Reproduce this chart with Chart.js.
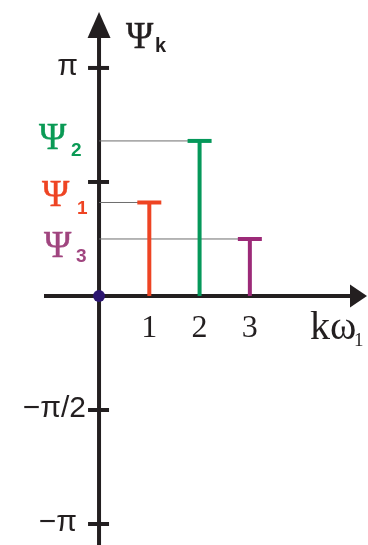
<!DOCTYPE html>
<html>
<head>
<meta charset="utf-8">
<script src="https://cdn.jsdelivr.net/npm/chart.js@4/dist/chart.umd.min.js"></script>
<style>
  html, body { margin: 0; padding: 0; background: #fff; }
  canvas { display: block; }
</style>
</head>
<body>
<canvas id="c" width="368" height="545"></canvas>
<script>
// Phase spectrum: harmonic index k and phase of each harmonic, in units of π
const harmonics = [1, 2, 3];
const phaseOverPi = [0.41, 0.68, 0.25];
const phaseSubscripts = ['1', '2', '3'];
const xTickValues = [1, 2, 3];
const xTickLabels = ['1', '2', '3'];
const yTickValues = [1, 0.5, -0.5, -1];
const yTickLabels = ['π', '', '−π/2', '−π'];

// styling
const STEM_COLORS = ['#ee4423', '#05985a', '#9c2a78'];
const LABEL_COLORS = ['#ee4423', '#0a9a55', '#a0457f'];
const INK = '#231f20';
const GUIDE = '#6e6e6e';
// right edge of each y tick label, measured left from the axis
const Y_LABEL_GAP = [21, 13, 13, 22];
// Ψ label placement: left x of Ψ, baseline offset from the value line; subscript x and baseline offset
const PSI_LABEL_POS = [
  { x: 42, dy: 4, sx: 77, sdy: 12 },
  { x: 39, dy: 8, sx: 71, sdy: 15 },
  { x: 44, dy: 18, sx: 76, sdy: 23 }
];
const PSI_FONT = '37px "Liberation Serif", "Times New Roman", serif';

const guideSets = harmonics.map((k, i) => ({
  data: [{ x: 0, y: phaseOverPi[i] }, { x: k, y: phaseOverPi[i] }],
  showLine: true, borderColor: GUIDE, borderWidth: 1, pointRadius: 0, order: 5
}));
const stemSets = harmonics.map((k, i) => ({
  data: [{ x: k, y: 0 }, { x: k, y: phaseOverPi[i] }],
  showLine: true, borderColor: STEM_COLORS[i], borderWidth: 4, pointRadius: 0, order: 4
}));
const capSet = {
  data: harmonics.map((k, i) => ({ x: k, y: phaseOverPi[i] })),
  pointStyle: 'line', pointRadius: 12, pointBorderWidth: 4,
  pointBorderColor: STEM_COLORS, pointBackgroundColor: STEM_COLORS, order: 3
};
const originSet = {
  data: [{ x: 0, y: 0 }],
  pointRadius: 6, pointBackgroundColor: '#2c1670', pointBorderWidth: 0, order: 1
};

// Ψ drawn with a thin outline so the strokes read a little heavier
function drawPsi(ctx, x, y, color) {
  ctx.font = PSI_FONT;
  ctx.fillStyle = color; ctx.strokeStyle = color; ctx.lineWidth = 0.45;
  ctx.fillText('Ψ', x, y);
  ctx.strokeText('Ψ', x, y);
}

const axesPlugin = {
  id: 'phaseAxes',
  beforeDatasetsDraw(chart) {
    const { ctx } = chart;
    const xs = chart.scales.x, ys = chart.scales.y;
    const x0 = xs.getPixelForValue(0), y0 = ys.getPixelForValue(0);
    ctx.save();
    ctx.strokeStyle = INK; ctx.fillStyle = INK; ctx.lineWidth = 4; ctx.lineCap = 'butt';
    // vertical axis with arrowhead
    ctx.beginPath(); ctx.moveTo(x0, chart.height); ctx.lineTo(x0, 36); ctx.stroke();
    ctx.beginPath(); ctx.moveTo(x0, 12); ctx.lineTo(x0 + 11.5, 38); ctx.lineTo(x0 - 11.5, 38); ctx.closePath(); ctx.fill();
    // horizontal axis with arrowhead
    ctx.beginPath(); ctx.moveTo(44, y0); ctx.lineTo(352, y0); ctx.stroke();
    ctx.beginPath(); ctx.moveTo(367, y0); ctx.lineTo(350, y0 - 11.5); ctx.lineTo(350, y0 + 11.5); ctx.closePath(); ctx.fill();
    // tick marks on vertical axis
    yTickValues.forEach(v => {
      const y = ys.getPixelForValue(v);
      ctx.beginPath(); ctx.moveTo(x0 - 11, y); ctx.lineTo(x0 + 10, y); ctx.stroke();
    });
    ctx.restore();
  },
  afterDatasetsDraw(chart) {
    const { ctx } = chart;
    const xs = chart.scales.x, ys = chart.scales.y;
    const x0 = xs.getPixelForValue(0), y0 = ys.getPixelForValue(0);
    ctx.save();
    ctx.fillStyle = INK;
    // y tick labels
    ctx.font = '30px "Liberation Sans", Arial, sans-serif';
    ctx.textAlign = 'right'; ctx.textBaseline = 'middle';
    yTickValues.forEach((v, i) => {
      if (yTickLabels[i]) ctx.fillText(yTickLabels[i], x0 - Y_LABEL_GAP[i], ys.getPixelForValue(v) - 1);
    });
    // x tick labels
    ctx.font = '32px "Liberation Serif", "Times New Roman", serif';
    ctx.textAlign = 'center'; ctx.textBaseline = 'alphabetic';
    xTickValues.forEach((v, i) => ctx.fillText(xTickLabels[i], xs.getPixelForValue(v), y0 + 41));
    // horizontal axis title kω₁
    ctx.textAlign = 'left';
    ctx.font = '40px "Liberation Serif", "Times New Roman", serif';
    ctx.fillText('kω', 310, y0 + 43);
    ctx.font = '19px "Liberation Serif", "Times New Roman", serif';
    ctx.fillText('1', 354, y0 + 50);
    // vertical axis title Ψk
    drawPsi(ctx, 126, 48, INK);
    ctx.font = 'bold 20px "Liberation Sans", Arial, sans-serif';
    ctx.fillText('k', 155, 52);
    // phase labels
    harmonics.forEach((k, i) => {
      const y = ys.getPixelForValue(phaseOverPi[i]);
      const p = PSI_LABEL_POS[i];
      drawPsi(ctx, p.x, y + p.dy, LABEL_COLORS[i]);
      ctx.font = 'bold 19px "Liberation Sans", Arial, sans-serif';
      ctx.fillText(phaseSubscripts[i], p.sx, y + p.sdy);
    });
    ctx.restore();
  }
};

new Chart(document.getElementById('c'), {
  type: 'scatter',
  data: { datasets: [...guideSets, ...stemSets, capSet, originSet] },
  options: {
    responsive: false,
    devicePixelRatio: 1,
    animation: false,
    layout: { padding: 0, autoPadding: false },
    plugins: { legend: { display: false }, tooltip: { enabled: false } },
    scales: {
      x: { type: 'linear', display: false, min: -1.97, max: 5.35 },
      y: { type: 'linear', display: false, min: -1.092, max: 1.298 }
    }
  },
  plugins: [axesPlugin]
});
</script>
</body>
</html>
